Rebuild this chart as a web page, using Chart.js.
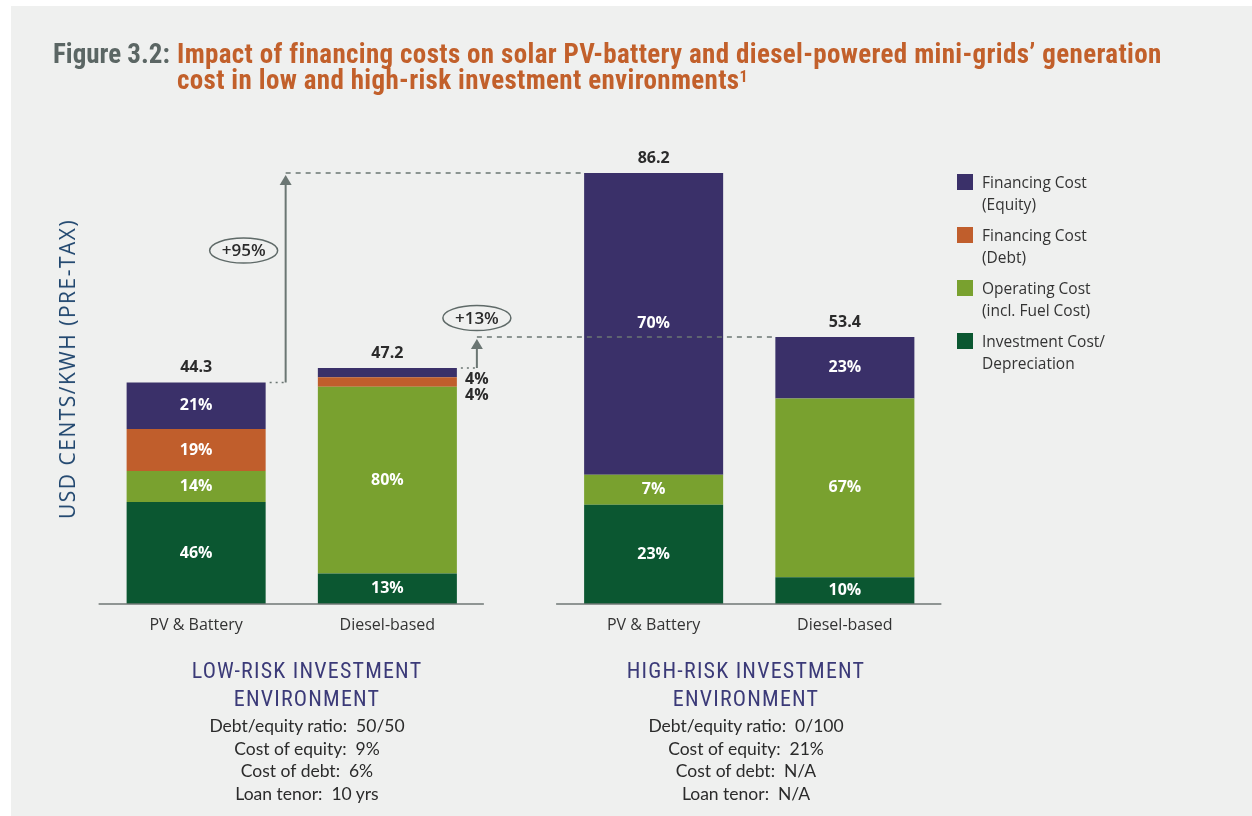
<!DOCTYPE html>
<html><head><meta charset="utf-8">
<script src="https://cdn.jsdelivr.net/npm/chart.js@4.4.1/dist/chart.umd.min.js"></script>
<style>
html,body{margin:0;padding:0;background:#ffffff;}
#wrap{position:relative;width:1252px;height:816px;overflow:hidden;background:#ffffff;font-family:"Open Sans",sans-serif;}
#bg{position:absolute;left:11px;top:6px;right:0;bottom:0;background:#eff0ef;}
canvas{position:absolute;left:0;top:0;}
#title{position:absolute;left:53px;top:41px;font-family:"Roboto Condensed","Liberation Sans Narrow",sans-serif;font-weight:bold;font-size:27px;line-height:26px;display:flex;white-space:nowrap;}
#title .fig{color:#5b6664;width:124px;}
#title .txt{color:#c2602b;letter-spacing:0.35px;}
#title sup{font-size:16px;vertical-align:top;position:relative;top:-3px;}
#ytitle{position:absolute;left:67px;top:369px;transform:translate(-50%,-50%) rotate(-90deg);white-space:nowrap;color:#21476f;font-size:21px;letter-spacing:1.5px;}
#legend{position:absolute;left:957px;top:174px;}
.li{position:relative;height:53px;}
.sw{position:absolute;left:0;top:0;width:16px;height:16px;}
.lt{position:absolute;left:25px;top:-3px;font-size:15.5px;line-height:22px;color:#333;white-space:nowrap;}
.grp{position:absolute;top:657px;width:400px;text-align:center;}
.grp .h{color:#3b3a78;font-family:"Roboto Condensed","Liberation Sans Narrow",sans-serif;font-size:22px;line-height:28px;letter-spacing:1.2px;}
.grp .d{color:#2b2b2b;font-family:Lato,sans-serif;font-size:17.5px;line-height:22.7px;white-space:pre;}
.grp .d.first{margin-top:2px;}
</style></head><body>
<div id="wrap">
<div id="bg"></div>
<canvas id="c" width="1252" height="816"></canvas>
<div id="title"><div class="fig">Figure 3.2:</div><div class="txt">Impact of financing costs on solar PV-battery and diesel-powered mini-grids’ generation<br>cost in low and high-risk investment environments<sup>1</sup></div></div>
<div id="ytitle">USD CENTS/KWH (PRE-TAX)</div>
<div id="legend"></div>
<div class="grp" id="g0" style="left:107px"></div>
<div class="grp" id="g1" style="left:546px"></div>
</div>
<script>
// ---- data ----
const environments = ['LOW-RISK INVESTMENT ENVIRONMENT', 'HIGH-RISK INVESTMENT ENVIRONMENT'];
const envTitles = [['LOW-RISK INVESTMENT', 'ENVIRONMENT'], ['HIGH-RISK INVESTMENT', 'ENVIRONMENT']];
const envDetails = [
  ['Debt/equity ratio:  50/50', 'Cost of equity:  9%', 'Cost of debt:  6%', 'Loan tenor:  10 yrs'],
  ['Debt/equity ratio:  0/100', 'Cost of equity:  21%', 'Cost of debt:  N/A', 'Loan tenor:  N/A']
];
const technologies = ['PV & Battery', 'Diesel-based'];
const components = ['Investment Cost/\nDepreciation', 'Operating Cost\n(incl. Fuel Cost)', 'Financing Cost\n(Debt)', 'Financing Cost\n(Equity)'];
const pvTotals = [44.3, 86.2];
const dieselTotals = [47.2, 53.4];
// shares (%) per component, [low-risk, high-risk]
const pvInvestmentPct = [46, 23];
const pvOperatingPct = [14, 7];
const pvDebtPct = [19, 0];
const pvEquityPct = [21, 70];
const dieselInvestmentPct = [13, 10];
const dieselOperatingPct = [80, 67];
const dieselDebtPct = [4, 0];
const dieselEquityPct = [4, 23];
const increaseLabels = ['+95%', '+13%'];

// ---- styles ----
const colors = ['#0b5731', '#79a12f', '#c05e2c', '#3a3069'];

const totals = [pvTotals, dieselTotals];
const pcts = [
  [pvInvestmentPct, pvOperatingPct, pvDebtPct, pvEquityPct],
  [dieselInvestmentPct, dieselOperatingPct, dieselDebtPct, dieselEquityPct]
];
const datasets = [];
technologies.forEach((tech, t) => {
  const sums = environments.map((e, i) => pcts[t].reduce((s, arr) => s + arr[i], 0));
  components.forEach((comp, k) => {
    datasets.push({
      label: comp,
      stack: tech,
      tech: t,
      comp: k,
      pcts: pcts[t][k],
      data: environments.map((e, i) => totals[t][i] * pcts[t][k][i] / sums[i]),
      backgroundColor: colors[k],
      borderWidth: 0
    });
  });
});

// legend (HTML)
const leg = document.getElementById('legend');
[3, 2, 1, 0].forEach(k => {
  const d = document.createElement('div'); d.className = 'li';
  d.innerHTML = '<div class="sw" style="background:' + colors[k] + '"></div><div class="lt">' + components[k].replace('\n', '<br>') + '</div>';
  leg.appendChild(d);
});
// group captions
environments.forEach((e, i) => {
  const g = document.getElementById('g' + i);
  g.innerHTML = envTitles[i].map(s => '<div class="h">' + s + '</div>').join('') +
    envDetails[i].map((s, j) => '<div class="d' + (j === 0 ? ' first' : '') + '">' + s + '</div>').join('');
});

const FONT = '"Open Sans", sans-serif';
const annot = {
  id: 'annot',
  afterDatasetsDraw(chart) {
    const ctx = chart.ctx, ys = chart.scales.y;
    const barOf = (t, k, i) => {
      const di = chart.data.datasets.findIndex(d => d.tech === t && d.comp === k);
      return chart.getDatasetMeta(di).data[i];
    };
    ctx.save();
    // baselines per environment group
    ctx.strokeStyle = '#6f7775'; ctx.lineWidth = 1.5;
    environments.forEach((e, i) => {
      const a = barOf(0, 0, i), b = barOf(1, 0, i);
      ctx.beginPath();
      ctx.moveTo(a.x - a.width / 2 - 28, a.base);
      ctx.lineTo(b.x + b.width / 2 + 27, b.base);
      ctx.stroke();
    });
    // segment labels
    chart.data.datasets.forEach((ds, di) => {
      chart.getDatasetMeta(di).data.forEach((bar, i) => {
        const p = ds.pcts[i]; if (!p) return;
        const h = bar.base - bar.y;
        ctx.font = 'bold 16px ' + FONT; ctx.textAlign = 'center'; ctx.textBaseline = 'middle';
        if (h >= 14) {
          ctx.fillStyle = '#ffffff';
          ctx.fillText(p + '%', bar.x, Math.min((bar.y + bar.base) / 2, bar.base - 9));
        } else {
          const top = ys.getPixelForValue(totals[ds.tech][i]);
          const order = 3 - ds.comp; // counted from top of stack
          ctx.fillStyle = '#2b2b2b';
          ctx.fillText(p + '%', bar.x + bar.width / 2 + 20, top + 11 + order * 16);
        }
      });
    });
    // totals and category labels
    technologies.forEach((tech, t) => {
      environments.forEach((e, i) => {
        const b = barOf(t, 0, i);
        const top = ys.getPixelForValue(totals[t][i]);
        ctx.fillStyle = '#2b2b2b'; ctx.font = 'bold 16px ' + FONT;
        ctx.textAlign = 'center'; ctx.textBaseline = 'middle';
        ctx.fillText(totals[t][i].toFixed(1), b.x, top - 15);
        ctx.font = '16px ' + FONT; ctx.fillStyle = '#333333';
        ctx.fillText(tech, b.x, b.base + 21);
      });
    });
    // increase annotations
    technologies.forEach((tech, t) => {
      const lo = barOf(t, 0, 0), hi = barOf(t, 0, 1);
      const yLo = ys.getPixelForValue(totals[t][0]);
      const yHi = ys.getPixelForValue(totals[t][1]);
      const ax = lo.x + lo.width / 2 + 20;
      ctx.strokeStyle = '#6b7673'; ctx.lineWidth = 1.5;
      ctx.setLineDash([2, 4]);
      ctx.beginPath(); ctx.moveTo(lo.x + lo.width / 2 + 4, yLo); ctx.lineTo(ax, yLo); ctx.stroke();
      ctx.setLineDash([5, 5]);
      ctx.beginPath(); ctx.moveTo(ax, yHi); ctx.lineTo(hi.x - hi.width / 2, yHi); ctx.stroke();
      ctx.setLineDash([]);
      ctx.lineWidth = 2;
      ctx.beginPath(); ctx.moveTo(ax, yLo); ctx.lineTo(ax, yHi + 8); ctx.stroke();
      ctx.fillStyle = '#6b7673';
      ctx.beginPath(); ctx.moveTo(ax, yHi + 2); ctx.lineTo(ax - 6, yHi + 12); ctx.lineTo(ax + 6, yHi + 12); ctx.closePath(); ctx.fill();
      let ex, ey;
      if (t === 0) { ex = ax - 42; ey = yHi + 0.37 * (yLo - yHi); }
      else { ex = ax; ey = yHi - 19; }
      ctx.beginPath(); ctx.ellipse(ex, ey, 34, 12.5, 0, 0, Math.PI * 2);
      ctx.lineWidth = 1.5; ctx.strokeStyle = '#5f6a68'; ctx.stroke();
      ctx.fillStyle = '#2b2b2b'; ctx.font = '600 17px ' + FONT;
      ctx.textAlign = 'center'; ctx.textBaseline = 'middle';
      ctx.fillText(increaseLabels[t], ex, ey + 1);
    });
    ctx.restore();
  }
};

new Chart(document.getElementById('c'), {
  type: 'bar',
  data: { labels: environments, datasets },
  options: {
    responsive: false,
    animation: false,
    layout: { padding: { left: 63, right: 274, top: 154, bottom: 212 } },
    plugins: { legend: { display: false }, tooltip: { enabled: false } },
    datasets: { bar: { categoryPercentage: 0.836, barPercentage: 0.727 } },
    scales: {
      x: { stacked: true, display: false },
      y: { stacked: true, display: false, min: 0, max: 90 }
    }
  },
  plugins: [annot]
});
</script>
</body></html>
